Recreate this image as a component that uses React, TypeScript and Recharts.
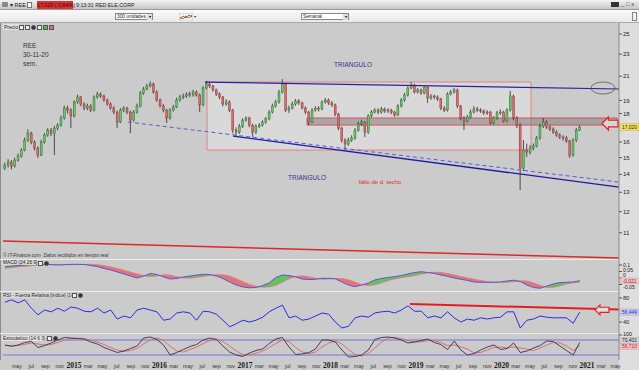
import React from 'react';
import { ComposedChart, Line, Bar, Area, XAxis, YAxis, ReferenceLine, ReferenceArea, ReferenceDot } from 'recharts';

// ---------- weekly chart sampled every two weeks: REE price candles (EUR) ----------
const opens = [14.37,14.55,14.73,14.49,14.85,15.10,15.48,16.13,16.60,16.00,
15.61,15.16,16.00,16.47,16.81,16.60,16.95,17.16,17.67,18.41,
18.26,17.82,18.88,19.27,18.72,18.41,18.57,18.26,19.27,19.51,
19.35,19.03,18.72,18.41,18.11,17.38,18.26,18.41,18.11,17.52,
18.11,18.57,19.59,19.92,20.17,20.33,19.67,19.03,18.57,18.26,
17.67,18.26,18.49,19.03,19.27,19.35,19.51,19.43,19.67,19.43,
18.65,20.00,20.33,20.17,19.84,19.51,19.27,18.72,18.88,18.26,
16.81,16.67,17.09,17.52,17.67,17.16,16.67,17.09,17.16,17.38,
17.60,18.11,18.57,18.88,19.67,20.33,18.26,18.41,18.72,18.96,
18.80,18.41,18.11,17.38,18.26,18.41,18.34,18.88,19.03,18.80,
18.65,17.96,16.95,16.13,15.87,16.13,16.27,16.81,17.24,17.38,
16.67,17.82,18.11,18.26,18.11,18.34,18.19,18.26,18.11,17.89,
18.57,19.03,19.43,20.00,20.25,19.67,19.84,19.59,20.08,19.19,
19.35,19.27,19.11,18.41,18.26,19.51,19.67,19.84,18.57,17.67,
17.45,17.74,18.11,18.34,18.26,18.19,18.04,18.11,17.31,17.67,
18.04,18.11,17.45,18.26,19.35,17.67,17.16,14.37,15.48,15.35,
15.61,15.74,16.27,17.09,17.38,17.02,16.88,16.67,16.47,16.33,
16.27,16.07,15.16,16.13,16.81];
const closes = [14.55,14.73,14.49,14.85,15.10,15.48,16.13,16.60,16.00,15.61,
15.16,16.00,16.47,16.81,16.60,16.95,17.16,17.67,18.41,18.26,
17.82,18.88,19.27,18.72,18.41,18.57,18.26,19.27,19.51,19.35,
19.03,18.72,18.41,18.11,17.38,18.26,18.41,18.11,17.52,18.11,
18.57,19.59,19.92,20.17,20.33,19.67,19.03,18.57,18.26,17.67,
18.26,18.49,19.03,19.27,19.35,19.51,19.43,19.67,19.43,18.65,
20.00,20.33,20.17,19.84,19.51,19.27,18.72,18.88,18.26,16.81,
16.67,17.09,17.52,17.67,17.16,16.67,17.09,17.16,17.38,17.60,
18.11,18.57,18.88,19.67,20.33,18.26,18.41,18.72,18.96,18.80,
18.41,18.11,17.38,18.26,18.41,18.34,18.88,19.03,18.80,18.65,
17.96,16.95,16.13,15.87,16.13,16.27,16.81,17.24,17.38,16.67,
17.82,18.11,18.26,18.11,18.34,18.19,18.26,18.11,17.89,18.57,
19.03,19.43,20.00,20.25,19.67,19.84,19.59,20.08,19.19,19.35,
19.27,19.11,18.41,18.26,19.51,19.67,19.84,18.57,17.67,17.45,
17.74,18.11,18.34,18.26,18.19,18.04,18.11,17.31,17.67,18.04,
18.11,17.45,18.26,19.35,17.67,17.16,14.37,15.48,15.35,15.61,
15.74,16.27,17.09,17.38,17.02,16.88,16.67,16.47,16.33,16.27,
16.07,15.16,16.13,16.81,17.02];
const highs = [14.70,14.90,14.85,15.00,15.25,15.60,16.30,16.85,16.70,16.10,
15.70,16.15,16.60,16.95,16.95,17.10,17.30,17.85,18.60,18.60,
18.40,19.00,19.45,19.35,18.85,18.75,18.70,19.40,19.70,19.65,
19.45,19.15,18.85,18.55,18.20,18.40,18.55,18.50,18.20,18.25,
18.75,19.75,20.10,20.35,20.55,20.45,19.80,19.15,18.70,18.35,
18.40,18.65,19.20,19.45,19.55,19.65,19.70,19.85,19.80,19.55,
20.15,20.60,20.45,20.25,19.95,19.65,19.35,19.10,19.00,18.35,
17.00,17.25,17.65,17.80,17.75,17.25,17.20,17.30,17.50,17.75,
18.25,18.75,19.05,19.85,20.75,20.45,18.60,18.90,19.10,19.10,
18.90,18.55,18.20,18.40,18.55,18.55,19.00,19.20,19.15,18.95,
18.75,18.05,17.05,16.25,16.30,16.45,16.95,17.40,17.55,17.45,
17.95,18.25,18.40,18.40,18.50,18.45,18.40,18.35,18.20,18.70,
19.20,19.60,20.15,20.50,20.35,20.00,19.95,20.25,20.15,19.50,
19.45,19.40,19.20,18.55,19.65,19.85,20.00,19.95,18.65,17.80,
17.90,18.30,18.55,18.50,18.40,18.30,18.25,18.20,17.80,18.20,
18.30,18.20,18.40,19.76,19.45,17.80,17.30,16.13,15.90,15.80,
15.90,16.40,17.25,17.67,17.50,17.15,17.00,16.80,16.60,16.45,
16.40,16.15,16.25,16.95,17.15];
const lows = [14.25,14.40,14.30,14.40,14.75,15.00,15.40,16.00,15.85,15.45,
14.98,15.10,15.90,16.35,16.40,15.16,16.80,17.05,17.55,18.00,
16.95,17.70,18.75,18.55,18.25,18.25,18.10,18.15,19.15,19.20,
18.90,18.60,18.30,17.95,16.95,17.30,18.10,17.95,16.60,17.40,
18.00,18.45,19.45,19.80,20.05,19.55,18.90,18.45,18.10,17.31,
17.55,18.15,18.40,18.90,19.10,19.20,19.25,19.30,19.30,18.11,
18.55,19.90,20.00,19.70,19.35,19.10,18.55,18.60,18.10,16.60,
16.33,16.55,16.95,17.40,17.00,16.33,16.55,16.95,17.05,17.25,
17.50,18.00,18.45,18.75,19.55,18.10,18.05,18.30,18.60,18.65,
18.30,17.95,17.16,17.30,18.15,18.15,18.25,18.75,18.65,18.50,
17.80,16.80,15.95,15.48,15.75,16.00,16.15,16.70,17.10,16.33,
16.55,17.70,18.00,17.95,18.00,18.05,18.05,17.95,17.75,17.80,
18.45,18.90,19.30,19.90,19.55,19.55,19.45,19.50,18.80,19.05,
19.10,18.95,18.25,18.10,18.15,19.40,19.55,18.40,17.50,16.81,
17.35,17.65,18.00,18.10,18.05,17.90,17.90,17.20,17.20,17.55,
17.90,17.35,17.35,18.15,17.50,16.95,13.12,14.20,15.04,15.20,
15.45,15.65,16.15,16.95,16.90,16.75,16.55,16.35,16.20,16.10,
15.95,14.98,15.05,16.00,16.75];
const FIRST_BAR_YEAR = 2014.193; // mid-March 2014
const LAST_BAR_YEAR = 2020.915;  // 30-11-2020

// ---------- indicators, one reading every four weeks ----------
const macdValues = [0.087,0.092,0.096,0.100,0.104,0.105,0.105,0.102,0.100,0.102,
0.105,0.105,0.104,0.096,0.087,0.073,0.062,0.046,0.031,0.015,
0.000,0.015,0.035,0.027,0.008,-0.008,-0.004,0.008,0.015,0.023,
0.028,0.027,0.015,-0.004,-0.031,-0.054,-0.069,-0.075,-0.073,-0.058,
-0.038,0.004,0.023,0.019,0.008,-0.008,-0.012,-0.010,-0.002,-0.002,
-0.006,-0.031,-0.054,-0.067,-0.054,-0.038,-0.015,-0.004,0.004,0.010,
0.019,0.031,0.042,0.048,0.042,0.035,0.023,0.012,0.000,-0.010,
-0.019,-0.031,-0.033,-0.033,-0.033,-0.031,-0.023,-0.017,-0.027,-0.054,
-0.073,-0.079,-0.062,-0.046,-0.035,-0.033,-0.031,-0.021];
const macdSignal = [0.075,0.080,0.086,0.091,0.095,0.099,0.102,0.104,0.104,0.103,
0.102,0.103,0.104,0.105,0.102,0.095,0.085,0.073,0.060,0.045,
0.030,0.017,0.012,0.016,0.024,0.022,0.010,0.000,-0.001,0.005,
0.013,0.020,0.025,0.024,0.014,-0.005,-0.028,-0.050,-0.064,-0.071,
-0.068,-0.055,-0.030,-0.005,0.012,0.016,0.008,-0.002,-0.009,-0.008,
-0.005,-0.004,-0.014,-0.033,-0.051,-0.058,-0.052,-0.036,-0.019,-0.006,
0.003,0.010,0.019,0.030,0.040,0.044,0.042,0.034,0.023,0.011,
0.000,-0.010,-0.020,-0.028,-0.032,-0.033,-0.032,-0.028,-0.022,-0.024,
-0.038,-0.058,-0.072,-0.072,-0.060,-0.046,-0.037,-0.031];
const rsiValues = [73,77,72,77,63,52,60,57,63,58,
65,63,58,57,63,55,60,45,50,47,
60,63,60,57,43,45,55,57,55,43,
58,57,53,43,32,37,43,40,43,48,
57,63,68,47,50,43,45,50,55,53,
40,30,33,47,50,48,55,57,58,55,
60,67,58,58,47,50,47,57,47,40,
45,43,47,45,47,48,57,57,30,43,
45,50,48,47,47,47,38,56.449];
const stochK = [60,55,60,70,74,50,58,68,80,90,
88,86,84,72,64,50,40,30,36,46,
56,88,92,82,60,20,30,42,54,62,
80,88,82,56,32,20,14,28,38,44,
66,84,90,52,22,24,30,44,80,80,
72,40,12,14,20,40,82,90,92,88,
80,68,72,78,84,70,62,42,76,40,
20,26,40,52,60,42,46,68,30,36,
48,58,76,74,56,38,20,70.401];
const stochD = [58,57,58,63,68,64,60,62,70,80,
86,87,85,80,72,62,50,40,35,38,
46,65,80,88,78,55,36,32,42,52,
66,78,84,74,56,36,22,20,27,36,
50,66,80,74,50,32,26,32,52,68,
76,64,42,22,16,26,48,72,88,90,
86,78,72,73,78,77,70,58,60,52,
44,28,30,40,50,52,48,52,48,44,
38,48,60,70,68,56,38,56.71];

// ---------- axis labels ----------
const priceTicks = [11, 12, 13, 14, 15, 16, 18, 19, 21, 23, 25];
const macdTicks = [0.1, 0.05, 0, -0.05];
const rsiTicks = [80, 40];
const stochTicks = [100];
const axisYears = [2014, 2015, 2016, 2017, 2018, 2019, 2020, 2021];
const axisMonths = ['mar', 'may', 'jul', 'sep', 'nov'];
const axisMonthOffsets = [2, 4, 6, 8, 10];

const X_DOMAIN: [number, number] = [2014.17, 2021.374];
const PRICE_DOMAIN: [number, number] = [9.87, 26.16];

// ---------- build tables ----------
const barStep = (LAST_BAR_YEAR - FIRST_BAR_YEAR) / (closes.length - 1);
const candles = closes.map((c, i) => ({ t: FIRST_BAR_YEAR + i * barStep, open: opens[i], close: c, high: highs[i], low: lows[i] }));
const indicators = macdValues.map((m, k) => ({
  t: candles[Math.min(2 * k, candles.length - 1)].t,
  macd: m, signal: macdSignal[k], rsi: rsiValues[k], k: stochK[k], d: stochD[k],
}));
const xTicks: { t: number; label: string; year: boolean }[] = [];
axisYears.forEach((y) => {
  xTicks.push({ t: y, label: String(y), year: true });
  axisMonths.forEach((m, j) => xTicks.push({ t: y + axisMonthOffsets[j] / 12, label: m, year: false }));
});
const visibleXTicks = xTicks.filter((d) => d.t > X_DOMAIN[0] + 0.05 && d.t < X_DOMAIN[1]);

const SANS = '"Liberation Sans", Arial, sans-serif';
const comma = (v: number) => String(v).replace('.', ',');

// ---------- shapes ----------
const Candle = (props: any) => {
  const { x, y, width, height, payload } = props;
  if (!payload || x == null || y == null) return null;
  const top = Math.min(y, y + height);
  const h = Math.abs(height);
  const lh = Math.log(payload.high);
  const ll = Math.log(payload.low);
  const toY = (v: number) => top + ((lh - Math.log(v)) / (lh - ll)) * h;
  const cx = x + width / 2;
  const up = payload.close >= payload.open;
  const bTop = toY(Math.max(payload.open, payload.close));
  const bBot = toY(Math.min(payload.open, payload.close));
  return (
    <g>
      <line x1={cx} x2={cx} y1={top} y2={top + h} stroke="#2a2a2a" strokeWidth={0.8} />
      <rect x={cx - 1} y={bTop} width={2} height={Math.max(bBot - bTop, 0.8)} fill={up ? '#64c864' : '#d96c6c'} stroke={up ? '#1d4a1d' : '#6a2020'} strokeWidth={0.35} />
    </g>
  );
};

const EllipseMark = (p: any) => <ellipse cx={p.cx} cy={p.cy} rx={12} ry={6} fill="none" stroke="#555" strokeWidth={0.8} />;

const makeArrow = (w: number, hh: number, bh: number, fill: string) => (p: any) => {
  const { cx, cy } = p;
  const d = `M${cx - w / 2},${cy} L${cx - w / 2 + hh},${cy - hh} L${cx - w / 2 + hh},${cy - bh} L${cx + w / 2},${cy - bh} L${cx + w / 2},${cy + bh} L${cx - w / 2 + hh},${cy + bh} L${cx - w / 2 + hh},${cy + hh} Z`;
  return <path d={d} fill={fill} stroke="#e42222" strokeWidth={1.2} />;
};
const MainArrow = makeArrow(16, 6.5, 3.3, '#d6d6d6');
const RsiArrow = makeArrow(14, 5, 2.6, '#dcdcdc');

const makeText = (text: string, color: string, size = 6.5) => (p: any) => (
  <text x={p.cx} y={p.cy} textAnchor="middle" dominantBaseline="middle" fontSize={size} fill={color} fontFamily={SANS}>{text}</text>
);

const makeValueBox = (text: string, bg: string, fg: string, dy = 0, h = 6.4) => (p: any) => (
  <g>
    <rect x={p.cx + 1} y={p.cy - h / 2 + dy} width={19} height={h} fill={bg} stroke="#999" strokeWidth={0.3} />
    <text x={p.cx + 10.5} y={p.cy + dy} dy="0.34em" textAnchor="middle" fontSize={4.9} fill={fg} fontFamily={SANS}>{text}</text>
  </g>
);

const makeYTick = (fmt: (v: number) => string, shifts: Record<string, number> = {}, size = 6) => (props: any) => {
  const { x, y, payload } = props;
  const dy = shifts[String(payload.value)] ?? 0;
  return (
    <text x={x} y={y + dy} dy="0.35em" textAnchor="start" fontSize={size} fill="#222" fontFamily={SANS}>{fmt(payload.value)}</text>
  );
};
const PriceTick = makeYTick((v) => String(v));
const MacdTick = makeYTick(comma, { '0.1': 0, '0.05': -1.5, '0': -2.9, '-0.05': 2.6 }, 5.2);
const RsiTick = makeYTick((v) => String(v), {}, 5.6);
const StochTick = makeYTick((v) => String(v), { '100': -0.6 }, 5.4);

const XTick = (props: any) => {
  const { x, y, payload } = props;
  const item = visibleXTicks.find((d) => Math.abs(d.t - payload.value) < 1e-6);
  if (!item) return null;
  return (
    <text x={x} y={y + (item.year ? 8 : 7.5)} textAnchor="middle" fontSize={item.year ? 7.5 : 5.3}
      fontWeight={item.year ? 700 : 400} fontFamily={item.year ? '"Liberation Serif", serif' : SANS} fill={item.year ? '#1a1a1a' : '#333'}>
      {item.label}
    </text>
  );
};

const yAxisProps = {
  orientation: 'right' as const,
  width: 20,
  tickSize: 3,
  tickMargin: 1,
  interval: 0 as const,
  allowDataOverflow: true,
  axisLine: { stroke: '#8a8a8a' },
  tickLine: { stroke: '#555' },
};

const abs = (left: number, top: number, extra: React.CSSProperties = {}): React.CSSProperties => ({
  position: 'absolute', left, top, whiteSpace: 'nowrap', fontFamily: SANS, ...extra,
});

const Icon = ({ left, top, color = '#eee', round = false }: { left: number; top: number; color?: string; round?: boolean }) => (
  <div style={abs(left, top, { width: 5, height: 5, background: color, border: '0.5px solid #555', borderRadius: round ? 3 : 0, boxSizing: 'border-box' })} />
);

export default function App() {
  const lengthsOk = [opens, highs, lows].every((a) => a.length === closes.length) &&
    [macdSignal, rsiValues, stochK, stochD].every((a) => a.length === macdValues.length);
  return (
    <div style={{ position: 'fixed', left: 0, top: 0, width: 639, height: 370, background: '#cbcbcb', overflow: 'hidden', fontFamily: SANS }}>
      {/* right axis strip */}
      <div style={abs(619, 23, { width: 20, height: 347, background: '#dedede' })} />
      {/* left frame */}
      <div style={abs(0, 23, { width: 1, height: 337, background: '#8a8a8a' })} />

      {/* title bar */}
      <div style={abs(0, 0, { width: 639, height: 10, background: 'linear-gradient(#f3f3f3,#c6c6c6)', borderBottom: '1px solid #9a9a9a', boxSizing: 'border-box' })} />
      <div style={abs(2, 2, { width: 6, height: 5, background: '#888', borderRadius: 1 })} />
      <div style={abs(10, 1.5, { fontSize: 5.5, color: '#222' })}>▾ REE</div>
      <div style={abs(27, 2, { width: 5, height: 6, background: '#fff', border: '0.5px solid #777', boxSizing: 'border-box' })} />
      <div style={abs(37, 1, { width: 36, height: 8, background: '#d83232', fontSize: 5.3, color: '#3a0000', lineHeight: '8px', textAlign: 'center' })}>17,020 (-0,64%)</div>
      <div style={abs(76, 1.5, { fontSize: 5.3, color: '#222' })}>9:13:31 RED ELE.CORP</div>
      <div style={abs(611, 2, { width: 8, height: 5, background: '#333' })} />
      <div style={abs(621, 0.5, { fontSize: 6, color: '#333' })}>_ □ x</div>

      {/* toolbar */}
      <div style={abs(0, 10, { width: 639, height: 13, background: 'linear-gradient(#fafafa,#e9e9e9)', borderBottom: '1px solid #a8a8a8', boxSizing: 'border-box' })} />
      <div style={abs(115, 13, { width: 38, height: 7, background: '#fff', border: '0.5px solid #888', boxSizing: 'border-box', fontSize: 4.8, lineHeight: '6.5px', paddingLeft: 1, color: '#222' })}>300 unidades</div>
      <div style={abs(147, 13.5, { width: 5, height: 6, background: '#ddd', fontSize: 4, lineHeight: '6px', textAlign: 'center' })}>▾</div>
      <div style={abs(301, 13, { width: 48, height: 7, background: '#fff', border: '0.5px solid #888', boxSizing: 'border-box', fontSize: 4.8, lineHeight: '6.5px', paddingLeft: 1, color: '#222' })}>Semanal</div>
      <div style={abs(343, 13.5, { width: 5, height: 6, background: '#ddd', fontSize: 4, lineHeight: '6px', textAlign: 'center' })}>▾</div>
      <svg style={abs(179, 12.5)} width={14} height={8}>
        <rect x={0} y={0} width={14} height={8} fill="#f4f4f4" stroke="#999" strokeWidth={0.5} />
        <polyline points="1,6 4,3 7,5 10,2 13,4" fill="none" stroke="#2a9a2a" strokeWidth={1} />
        <polyline points="1,4 4,6 7,3 10,5 13,2" fill="none" stroke="#d83030" strokeWidth={0.8} />
      </svg>
      <div style={abs(194, 13.5, { fontSize: 4, color: '#333' })}>▾</div>
      <div style={abs(632, 12, { width: 5, height: 9, background: '#f0f0f0', border: '0.5px solid #888', boxSizing: 'border-box' })} />

      {/* main price panel */}
      <div style={abs(0, 23)}>
        <ComposedChart width={639} height={236} data={candles} margin={{ top: 0, right: 0, bottom: 0, left: 3 }}>
          <XAxis type="number" dataKey="t" domain={X_DOMAIN} hide allowDataOverflow />
          <YAxis {...yAxisProps} scale="log" domain={PRICE_DOMAIN} ticks={priceTicks} tick={PriceTick} />
          <ReferenceArea x1={2016.556} x2={2020.345} y1={15.48} y2={20.50} fill="#ffffff" fillOpacity={0.28} stroke="#e37a7a" strokeWidth={0.9} ifOverflow="visible" />
          <Bar dataKey={(d: any) => [d.low, d.high]} shape={Candle} barSize={3} isAnimationActive={false} />
          <ReferenceArea x1={2017.725} x2={2021.351} y1={17.16} y2={17.67} fill="#808080" fillOpacity={0.55} stroke="#e04848" strokeWidth={0.9} ifOverflow="visible" />
          <ReferenceLine segment={[{ x: 2016.532, y: 20.5 }, { x: 2021.374, y: 19.92 }]} stroke="#2424a8" strokeWidth={1.2} ifOverflow="visible" />
          <ReferenceLine segment={[{ x: 2015.632, y: 17.38 }, { x: 2021.374, y: 13.56 }]} stroke="#5a5ad2" strokeWidth={1} strokeDasharray="4 3" ifOverflow="visible" />
          <ReferenceLine segment={[{ x: 2016.86, y: 16.4 }, { x: 2021.374, y: 13.28 }]} stroke="#1c1ca0" strokeWidth={1.3} ifOverflow="visible" />
          <ReferenceLine segment={[{ x: 2014.17, y: 10.63 }, { x: 2021.374, y: 9.91 }]} stroke="#e02828" strokeWidth={1.5} ifOverflow="visible" />
          <ReferenceDot x={2021.187} y={20.0} shape={EllipseMark} ifOverflow="visible" />
          <ReferenceDot x={2021.268} y={17.27} shape={MainArrow} ifOverflow="visible" />
          <ReferenceDot x={2018.263} y={22.0} shape={makeText('TRIANGULO', '#32328e')} ifOverflow="visible" />
          <ReferenceDot x={2017.725} y={13.79} shape={makeText('TRIANGULO', '#32328e')} ifOverflow="visible" />
          <ReferenceDot x={2018.579} y={13.56} shape={makeText('fallo de d. techo', '#e02a2a', 6)} ifOverflow="visible" />
          <ReferenceDot x={X_DOMAIN[1]} y={17.02} shape={makeValueBox('17,020', '#f2e05a', '#222', 0, 7.5)} ifOverflow="visible" />
        </ComposedChart>
      </div>
      <div style={abs(3, 24, { fontSize: 5, color: '#222', background: '#e2e2e2', padding: '0 1px' })}>Precio</div>
      <Icon left={19} top={25} />
      <Icon left={25} top={25} />
      <Icon left={31} top={25} color="#333" round />
      <Icon left={37} top={25} />
      <Icon left={43} top={25} color="#4ac24a" />
      <Icon left={49} top={25} color="#e86a6a" />
      <div style={abs(23, 41, { fontSize: 6.5, color: '#333', lineHeight: '9px' })}>REE<br />30-11-20<br />sem.</div>
      <div style={abs(3, 252.5, { fontSize: 4.8, color: '#333', fontStyle: 'italic' })}>© IT-Finance.com&nbsp; Datos recibidos en tiempo real</div>

      {/* separators */}
      <div style={abs(0, 259, { width: 619, height: 1, background: '#ececec' })} />
      <div style={abs(0, 291, { width: 619, height: 1, background: '#ececec' })} />
      <div style={abs(0, 333, { width: 619, height: 1, background: '#ececec' })} />

      {/* MACD */}
      <div style={abs(0, 259)}>
        <ComposedChart width={639} height={32} data={indicators} margin={{ top: 0, right: 0, bottom: 0, left: 3 }}>
          <XAxis type="number" dataKey="t" domain={X_DOMAIN} hide allowDataOverflow />
          <YAxis {...yAxisProps} domain={[-0.1, 0.146]} ticks={macdTicks} tick={MacdTick} />
          <Area dataKey={(d: any) => [d.signal, d.macd]} fill="#e36a6a" fillOpacity={0.9} stroke="none" isAnimationActive={false} />
          <Area dataKey={(d: any) => (d.macd >= d.signal ? [d.signal, d.macd] : null)} fill="#58c858" fillOpacity={0.95} stroke="none" connectNulls={false} isAnimationActive={false} />
          <Line dataKey="signal" stroke="#e07a7a" strokeWidth={0.9} dot={false} isAnimationActive={false} />
          <Line dataKey="macd" stroke="#5858d8" strokeWidth={1} dot={false} isAnimationActive={false} />
          <ReferenceDot x={X_DOMAIN[1]} y={-0.021} shape={makeValueBox('-0,021', '#f0c4c4', '#c02020', 0.2, 5.8)} ifOverflow="visible" />
        </ComposedChart>
      </div>
      <div style={abs(2, 260, { fontSize: 4.8, color: '#222', background: '#d8d8d8', padding: '0 1px' })}>MACD (24 26 9)</div>
      <Icon left={38} top={260.5} />
      <Icon left={44} top={260.5} color="#333" round />

      {/* RSI */}
      <div style={abs(0, 291)}>
        <ComposedChart width={639} height={42} data={indicators} margin={{ top: 0, right: 0, bottom: 0, left: 3 }}>
          <XAxis type="number" dataKey="t" domain={X_DOMAIN} hide allowDataOverflow />
          <YAxis {...yAxisProps} domain={[21.7, 91.7]} ticks={rsiTicks} tick={RsiTick} />
          <Line dataKey="rsi" stroke="#2a2ae6" strokeWidth={1} dot={false} isAnimationActive={false} />
          <ReferenceLine segment={[{ x: 2018.93, y: 70 }, { x: 2021.374, y: 60.8 }]} stroke="#e41e1e" strokeWidth={2} ifOverflow="visible" />
          <ReferenceDot x={2021.175} y={60.3} shape={RsiArrow} ifOverflow="visible" />
          <ReferenceDot x={X_DOMAIN[1]} y={56.449} shape={makeValueBox('56,449', '#c9c9f2', '#2828c8')} ifOverflow="visible" />
        </ComposedChart>
      </div>
      <div style={abs(2, 292.5, { fontSize: 4.8, color: '#222', background: '#d8d8d8', padding: '0 1px' })}>RSI - Fuerza Relativa [índice] (14)</div>
      <Icon left={72} top={293} />
      <Icon left={78} top={293} color="#333" round />

      {/* Stochastic + time axis (svg starts 4px higher so the "100" label is not clipped) */}
      <div style={abs(0, 329)}>
        <ComposedChart width={639} height={41} data={indicators} margin={{ top: 4, right: 0, bottom: 0, left: 3 }}>
          <XAxis type="number" dataKey="t" domain={X_DOMAIN} allowDataOverflow ticks={visibleXTicks.map((d) => d.t)} interval={0}
            tick={XTick} tickLine={false} axisLine={false} height={10} tickSize={0} tickMargin={0} />
          <YAxis {...yAxisProps} domain={[0, 108]} ticks={stochTicks} tick={StochTick} />
          <ReferenceLine y={80} stroke="#6c6ce2" strokeWidth={0.9} />
          <ReferenceLine y={20} stroke="#6c6ce2" strokeWidth={0.9} />
          <Line dataKey="d" stroke="#d87070" strokeWidth={1} dot={false} isAnimationActive={false} />
          <Line dataKey="k" stroke="#3c2c4c" strokeWidth={0.9} dot={false} isAnimationActive={false} />
          <ReferenceDot x={X_DOMAIN[1]} y={70.401} shape={makeValueBox('70,401', '#d4d4d4', '#222', -2, 5.8)} ifOverflow="visible" />
          <ReferenceDot x={X_DOMAIN[1]} y={56.71} shape={makeValueBox('56,710', '#f0c4c4', '#c02020', 1, 5.8)} ifOverflow="visible" />
        </ComposedChart>
      </div>
      <div style={abs(2, 335.5, { fontSize: 4.8, color: '#222', background: '#e4e4e4', padding: '0 1px' })}>Estocástico (14 6 3)</div>
      <Icon left={47} top={336} />
      <Icon left={53} top={336} color="#333" round />

      {!lengthsOk && <div style={abs(200, 200, { color: 'red', fontSize: 14 })}>LENGTH MISMATCH</div>}
    </div>
  );
}
